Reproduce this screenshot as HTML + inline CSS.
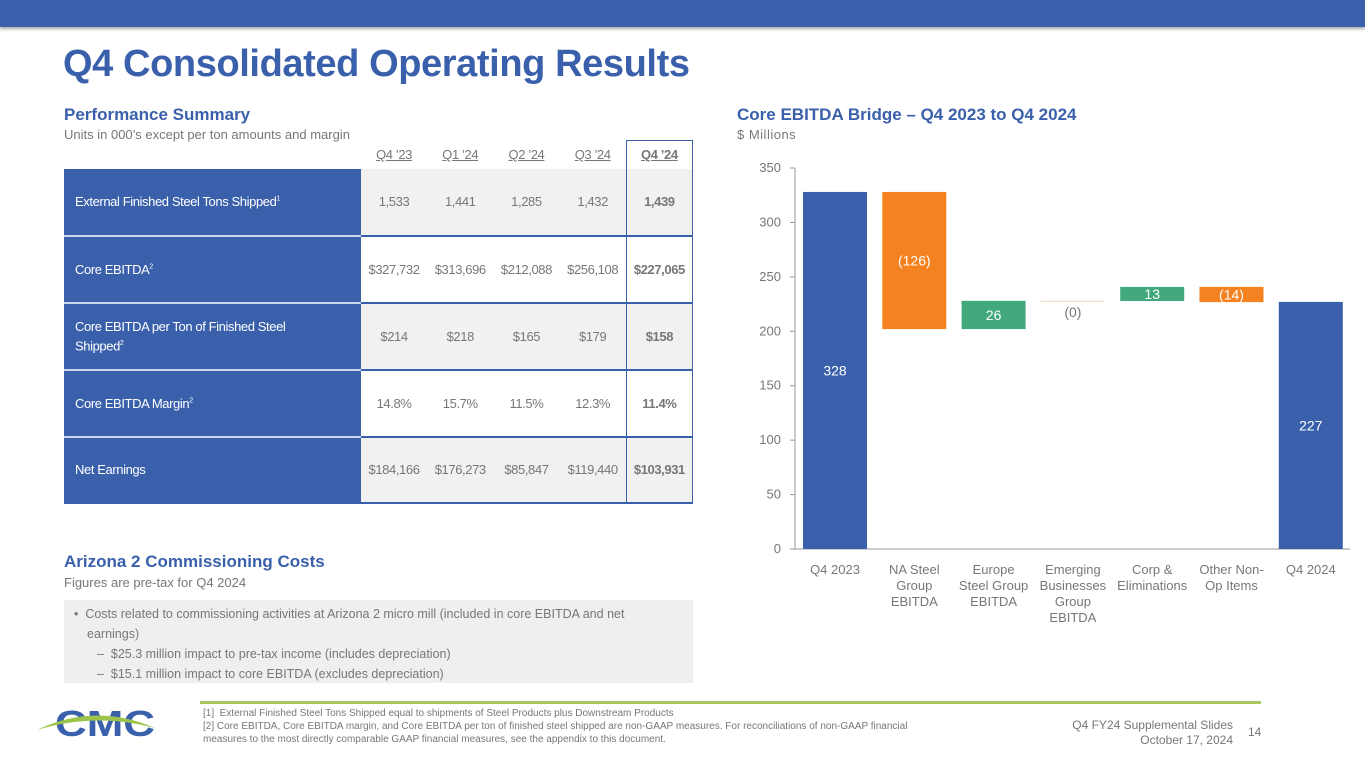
<!DOCTYPE html>
<html><head><meta charset="utf-8"><style>
body{margin:0;width:1365px;height:768px;position:relative;background:#fff;font-family:"Liberation Sans",sans-serif;overflow:hidden}
.a{position:absolute}
.t td{padding:0;font-size:13px;color:#777;text-align:center;letter-spacing:-0.4px}
</style></head><body>
<div class="a" style="left:0;top:0;width:1365px;height:27px;background:#3a60ac;box-shadow:0 2px 3px rgba(0,0,0,.35)"></div>
<div class="a" style="left:63px;top:43px;font-size:38px;font-weight:bold;color:#3a60ac;letter-spacing:-0.4px">Q4 Consolidated Operating Results</div>
<div class="a" style="left:64px;top:105px;font-size:17px;font-weight:bold;color:#3a60ac">Performance Summary</div>
<div class="a" style="left:64px;top:127px;font-size:13px;color:#777">Units in 000’s except per ton amounts and margin</div>

<table class="a t" style="left:64px;top:140px;border-collapse:collapse;width:629px">
<tr style="height:28px"><td style="width:296px"></td>
<td style="width:66px;text-decoration:underline">Q4 ’23</td><td style="width:66px;text-decoration:underline">Q1 ’24</td><td style="width:66px;text-decoration:underline">Q2 ’24</td><td style="width:66px;text-decoration:underline">Q3 ’24</td><td style="width:65px;text-decoration:underline;font-weight:bold;border:1.5px solid #3a60ac;border-bottom:none">Q4 ’24</td></tr>
<tr style="height:67px;background:#f1f1f1"><td style="background:#3a60ac;color:#fff;text-align:left;padding-left:11px;border-bottom:2px solid #c9d5ee">External Finished Steel Tons Shipped<sup style="font-size:7px">1</sup></td><td>1,533</td><td>1,441</td><td>1,285</td><td>1,432</td><td style="font-weight:bold;border-left:1.5px solid #3a60ac;border-right:1.5px solid #3a60ac">1,439</td></tr>
<tr style="height:67px;background:#fff;border-top:2px solid #3a60ac"><td style="background:#3a60ac;color:#fff;text-align:left;padding-left:11px;border-top:2px solid #c9d5ee">Core EBITDA<sup style="font-size:7px">2</sup></td><td>$327,732</td><td>$313,696</td><td>$212,088</td><td>$256,108</td><td style="font-weight:bold;border-left:1.5px solid #3a60ac;border-right:1.5px solid #3a60ac">$227,065</td></tr>
<tr style="height:67px;background:#f1f1f1;border-top:2px solid #3a60ac"><td style="background:#3a60ac;color:#fff;text-align:left;padding-left:11px;border-top:2px solid #c9d5ee;line-height:17px">Core EBITDA per Ton of Finished Steel<br>Shipped<sup style="font-size:7px">2</sup></td><td>$214</td><td>$218</td><td>$165</td><td>$179</td><td style="font-weight:bold;border-left:1.5px solid #3a60ac;border-right:1.5px solid #3a60ac">$158</td></tr>
<tr style="height:67px;background:#fff;border-top:2px solid #3a60ac"><td style="background:#3a60ac;color:#fff;text-align:left;padding-left:11px;border-top:2px solid #c9d5ee">Core EBITDA Margin<sup style="font-size:7px">2</sup></td><td>14.8%</td><td>15.7%</td><td>11.5%</td><td>12.3%</td><td style="font-weight:bold;border-left:1.5px solid #3a60ac;border-right:1.5px solid #3a60ac">11.4%</td></tr>
<tr style="height:66px;background:#f1f1f1;border-top:2px solid #3a60ac;border-bottom:2px solid #3a60ac"><td style="background:#3a60ac;color:#fff;text-align:left;padding-left:11px;border-top:2px solid #c9d5ee">Net Earnings</td><td>$184,166</td><td>$176,273</td><td>$85,847</td><td>$119,440</td><td style="font-weight:bold;border-left:1.5px solid #3a60ac;border-right:1.5px solid #3a60ac">$103,931</td></tr>
</table>

<div class="a" style="left:64px;top:552px;font-size:17px;font-weight:bold;color:#3a60ac">Arizona 2 Commissioning Costs</div>
<div class="a" style="left:64px;top:575px;font-size:13px;color:#777">Figures are pre-tax for Q4 2024</div>
<div class="a" style="left:64px;top:600px;width:629px;height:83px;background:#efefef;font-size:12.5px;color:#777;line-height:20px;box-sizing:border-box;padding:4px 20px 0 10px">
<div style="padding-left:13px;text-indent:-13px">•&nbsp; Costs related to commissioning activities at Arizona 2 micro mill (included in core EBITDA and net earnings)</div>
<div style="padding-left:23px">–&nbsp; $25.3 million impact to pre-tax income (includes depreciation)</div>
<div style="padding-left:23px">–&nbsp; $15.1 million impact to core EBITDA (excludes depreciation)</div>
</div>

<div class="a" style="left:737px;top:105px;font-size:17px;font-weight:bold;color:#3a60ac">Core EBITDA Bridge – Q4 2023 to Q4 2024</div>
<div class="a" style="left:737px;top:127px;font-size:13px;color:#777;letter-spacing:0.5px">$ Millions</div>

<svg class="a" style="left:0;top:0" width="1365" height="768" id="chart"></svg>

<div class="a" style="left:200px;top:701px;width:1061px;height:3px;background:#a9c95e"></div>
<div class="a" style="left:35px;top:700px;width:125px;height:40px">
<svg width="125" height="40"><text x="20" y="36" font-family="Liberation Sans" font-weight="bold" font-size="36" fill="#3a60ac" textLength="100" lengthAdjust="spacingAndGlyphs">CMC</text><path d="M2 30 Q60 2 120 28 Q60 12 2 30Z" fill="#9cc44a"/></svg></div>
<div class="a" style="left:203px;top:707px;font-size:10px;color:#777;line-height:13px">[1]&nbsp; External Finished Steel Tons Shipped equal to shipments of Steel Products plus Downstream Products<br>[2] Core EBITDA, Core EBITDA margin, and Core EBITDA per ton of finished steel shipped are non-GAAP measures. For reconciliations of non-GAAP financial<br>measures to the most directly comparable GAAP financial measures, see the appendix to this document.</div>
<div class="a" style="left:1000px;width:233px;top:718px;font-size:12px;color:#777;text-align:right;line-height:15px">Q4 FY24 Supplemental Slides<br>October 17, 2024</div>
<div class="a" style="left:1248px;top:725px;font-size:12px;color:#777">14</div>

<script>
const categories=[["Q4 2023"],["NA Steel","Group","EBITDA"],["Europe","Steel Group","EBITDA"],["Emerging","Businesses","Group","EBITDA"],["Corp &","Eliminations"],["Other Non-","Op Items"],["Q4 2024"]];
const values=[328,-126,26,-0.2,13,-14,227];
const kinds=["total","delta","delta","delta","delta","delta","total"];
const labels=["328","(126)","26","(0)","13","(14)","227"];
const yTicks=[0,50,100,150,200,250,300,350];
const svg=document.getElementById('chart');
const NS='http://www.w3.org/2000/svg';
const y0=549,y350=168,x0=795,step=79.3,bw=64;
const y=v=>y0-(v/350)*(y0-y350);
const xc=i=>x0+40+i*step;
function mk(t,a){const e=document.createElementNS(NS,t);for(const k in a)e.setAttribute(k,a[k]);svg.appendChild(e);return e;}
const ax=mk('line',{x1:x0,y1:y350,x2:x0,y2:y0,stroke:'#999'});


const bx=mk('line',{x1:x0,y1:y0,x2:1350,y2:y0,stroke:'#999'});


yTicks.forEach(v=>{
 mk('line',{x1:x0-5,y1:y(v),x2:x0,y2:y(v),stroke:'#999'});
 const t=mk('text',{x:x0-14,y:y(v)+4,'text-anchor':'end','font-size':13,fill:'#777','font-family':'Liberation Sans'});
 t.textContent=v;
 
 
});
let run=0;
values.forEach((v,i)=>{
 let lo,hi,col;
 if(kinds[i]==='total'){lo=0;hi=v;run=v;col='#3a60ac';}
 else{const nv=run+v;lo=Math.min(run,nv);hi=Math.max(run,nv);run=nv;col=v>=0?'#41a97b':'#f58220';}
 const h=Math.max(y(lo)-y(hi),1);
 const r=mk('rect',{x:xc(i)-bw/2,y:y(hi),width:bw,height:h,fill:Math.abs(v)<1?'#f3d9c2':col});
 
 
 const inside=h>12;
 const t=mk('text',{x:xc(i),y:inside?(y(hi)+h/2+5):(y(lo)+16),'text-anchor':'middle','font-size':14,fill:inside?'#fff':'#777','font-family':'Liberation Sans'});
 t.textContent=labels[i];
 
 
 categories[i].forEach((ln,j)=>{
  const c=mk('text',{x:xc(i),y:y0+25+j*16,'text-anchor':'middle','font-size':13,fill:'#777','font-family':'Liberation Sans'});
  c.textContent=ln;
  
  
 });
});
</script>
</body></html>
